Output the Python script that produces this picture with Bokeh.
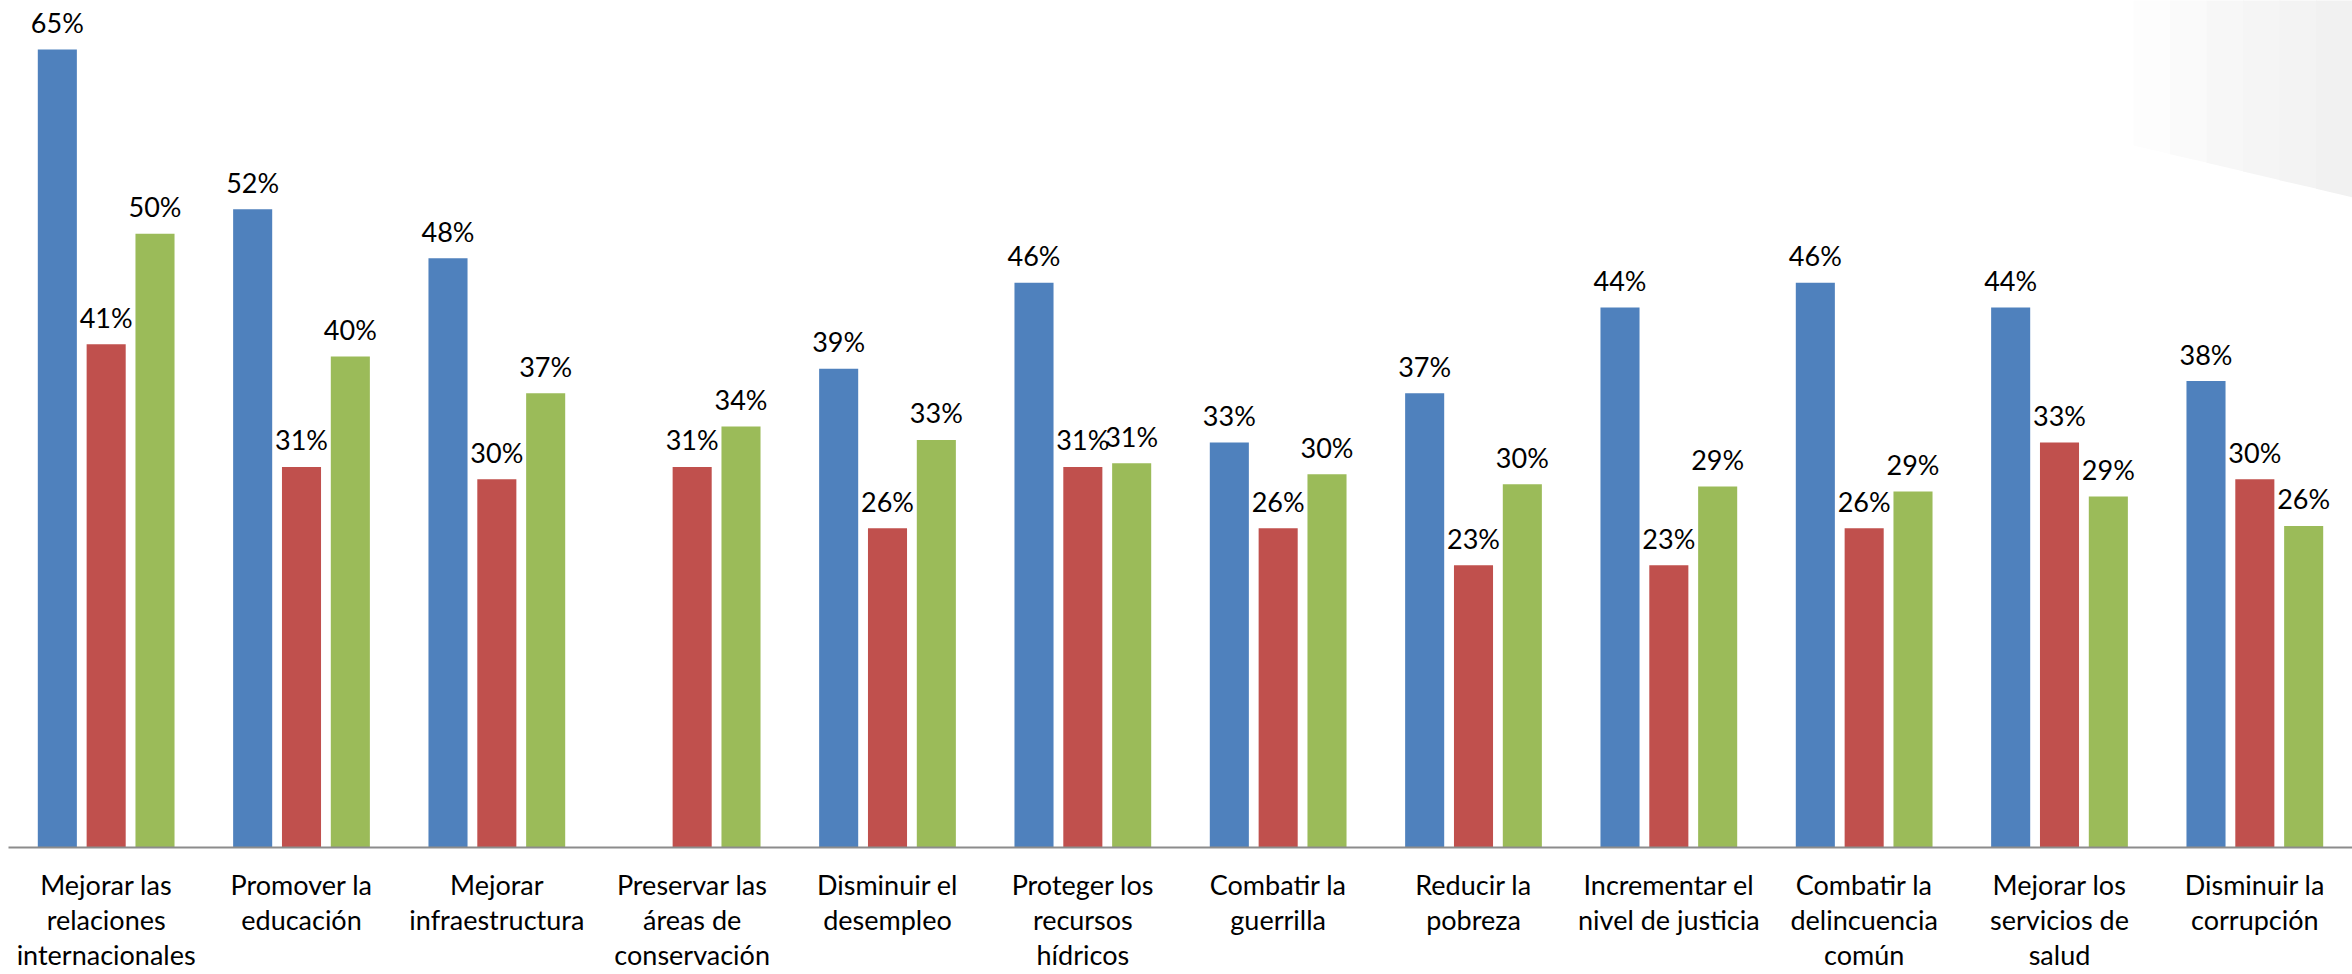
from bokeh.plotting import figure
from bokeh.models import FactorRange, Range1d, ColumnDataSource, PolyAnnotation
from bokeh.transform import dodge
from bokeh.core.properties import value
from bokeh.embed import file_html
from bokeh.resources import INLINE

categories = [
    "Mejorar las\nrelaciones\ninternacionales",
    "Promover la\neducación",
    "Mejorar\ninfraestructura",
    "Preservar las\náreas de\nconservación",
    "Disminuir el\ndesempleo",
    "Proteger los\nrecursos\nhídricos",
    "Combatir la\nguerrilla",
    "Reducir la\npobreza",
    "Incrementar el\nnivel de justicia",
    "Combatir la\ndelincuencia\ncomún",
    "Mejorar los\nservicios de\nsalud",
    "Disminuir la\ncorrupción",
]
serie_azul = [65, 52, 48, None, 39, 46, 33, 37, 44, 46, 44, 38]
serie_roja = [41, 31, 30, 31, 26, 31, 26, 23, 23, 26, 33, 30]
serie_verde = [50, 40, 37, 34.3, 33.2, 31.3, 30.4, 29.6, 29.4, 29.0, 28.6, 26.2]

colors = ["#4F81BD", "#C0504D", "#9BBB59"]
offsets = [-0.25, 0.0, 0.25]
FONT = "Lato"

FRAME_H = 850
p = figure(
    x_range=FactorRange(factors=categories, range_padding=0),
    y_range=Range1d(0, 69.0),
    width=2352, height=974,
    output_backend="svg", toolbar_location=None,
    min_border_left=8, min_border_right=0, min_border_top=0,
    min_border_bottom=0,
)

# faint slide decoration (light grey gradient wedge) in the top-right corner
x0, x1 = 2125, 2344
y_left, y_right = 148, 200
shades = ["#fdfdfd", "#fafafa", "#f7f7f7", "#f5f5f5", "#f3f3f3", "#f1f1f1"]
n = len(shades)
for i, shade in enumerate(shades):
    xa_ = x0 + (x1 - x0) * i / n
    xb_ = x0 + (x1 - x0) * (i + 1) / n
    ya_ = y_left + (y_right - y_left) * i / n
    yb_ = y_left + (y_right - y_left) * (i + 1) / n
    p.add_layout(PolyAnnotation(
        xs=[xa_, xb_ + 1, xb_ + 1, xa_],
        ys=[FRAME_H, FRAME_H, FRAME_H - yb_, FRAME_H - ya_],
        xs_units="screen", ys_units="screen",
        fill_color=shade, fill_alpha=1.0, line_color=None, level="underlay"))

for vals, col, off in zip([serie_azul, serie_roja, serie_verde], colors, offsets):
    xs = [c for c, v in zip(categories, vals) if v is not None]
    ys = [v for v in vals if v is not None]
    labels = [f"{v:.0f}%" for v in ys]
    src = ColumnDataSource(dict(cat=xs, val=ys, lab=labels))
    p.vbar(x=dodge("cat", off, range=p.x_range), top="val", width=0.2,
           source=src, fill_color=col, line_color=None)
    p.text(x=dodge("cat", off, range=p.x_range), y="val", text="lab", source=src,
           text_align="center", text_baseline="alphabetic", y_offset=-27,
           text_font=value(FONT), text_font_size="27px", text_color="#000000")

p.yaxis.visible = False
p.xgrid.grid_line_color = None
p.ygrid.grid_line_color = None
p.outline_line_color = None
xa = p.xaxis[0]
xa.axis_line_color = "#8c8c8c"
xa.axis_line_width = 2
xa.major_tick_line_color = None
xa.minor_tick_line_color = None
xa.major_tick_out = 0
xa.major_tick_in = 0
xa.major_label_standoff = 20
xa.major_label_text_font = FONT
xa.major_label_text_font_size = "27px"
xa.major_label_text_line_height = 1.07
xa.major_label_text_color = "#000000"
xa.major_label_orientation = "horizontal"

open("out.html", "w").write(file_html(p, INLINE))
